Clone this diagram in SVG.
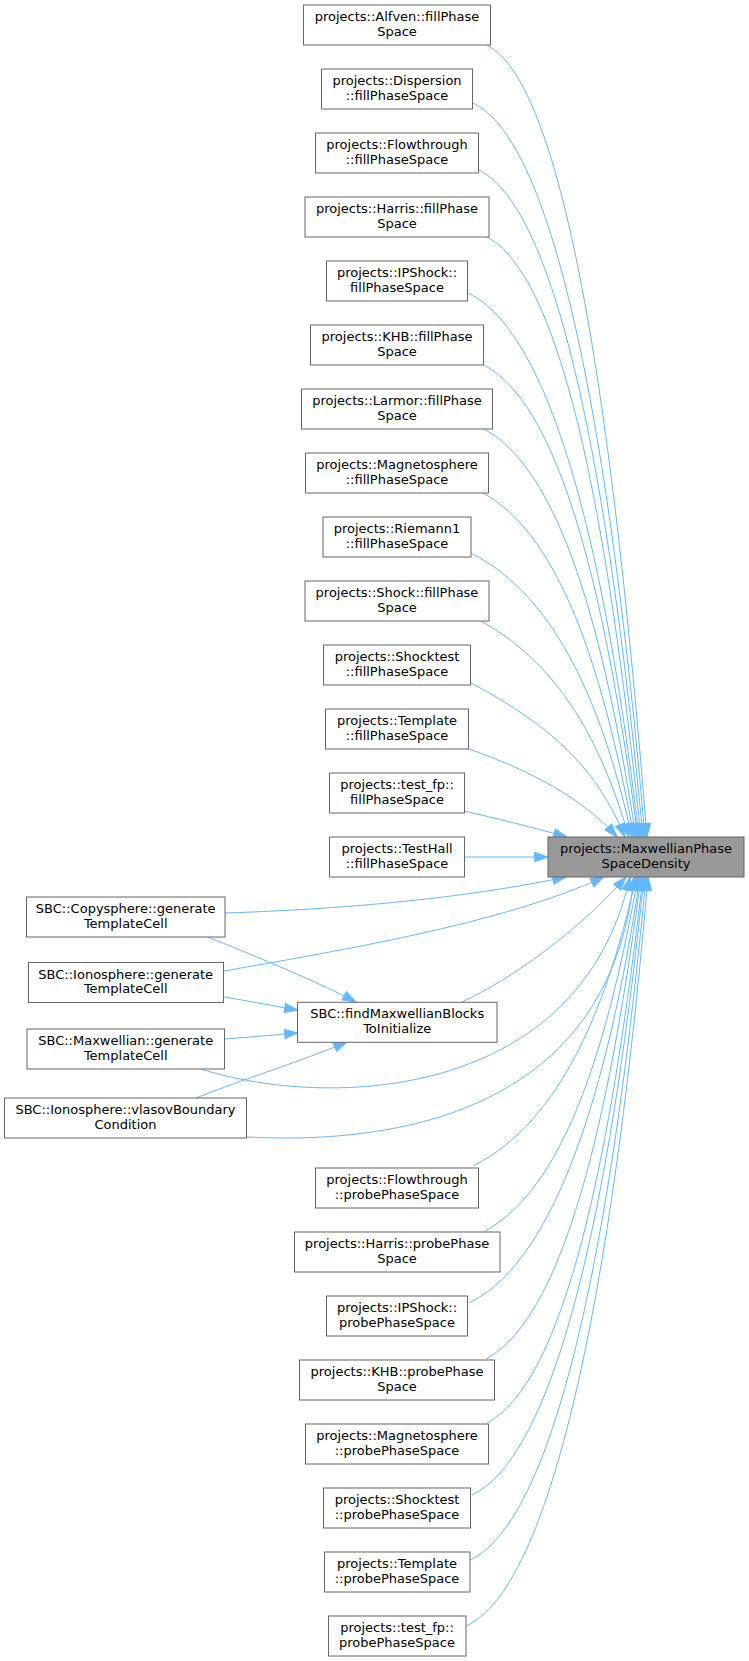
<svg xmlns="http://www.w3.org/2000/svg" width="749" height="1661" viewBox="0 0 749 1661">
<style>
.n rect{fill:#ffffff;stroke:#666666;stroke-width:1}
.c rect{fill:#999999;stroke:#666666;stroke-width:1}
text{font-family:"DejaVu Sans","Liberation Sans",sans-serif;font-size:13px;fill:#000000;text-anchor:middle}
.e path{fill:none;stroke:#63b8ff;stroke-width:1;marker-end:url(#ah)}
</style>
<defs>
<marker id="ah" markerUnits="userSpaceOnUse" markerWidth="16" markerHeight="12" viewBox="0 0 16 12" refX="14.3" refY="6" orient="auto" overflow="visible"><path d="M1,1.33 L14.3,6 L1,10.67 Z" fill="#63b8ff" stroke="#63b8ff" stroke-width="1"/></marker>
</defs>
<rect x="0" y="0" width="749" height="1661" fill="#ffffff"/>
<g id="edges" class="e">
<path d="M487,45 C575,90 620,500 647,837"/>
<path d="M473,103 C568,148 618,525 645,837"/>
<path d="M479,170 C569,215 616,554 643,837"/>
<path d="M487,237 C572,282 614,582 641,837"/>
<path d="M468,293 C562,338 612,606 639,837"/>
<path d="M484,365 C569,410 611,636 638,837"/>
<path d="M484,429 C568,474 609,664 636,837"/>
<path d="M483,493 C566,538 607,691 634,837"/>
<path d="M471,553 C560,598 605,716 632,837"/>
<path d="M481,621 C562,666 602,745 629,837"/>
<path d="M471,683 C556,728 598,772 625,837"/>
<path d="M469,749 C530,770 585,800 617,837"/>
<path d="M464,811 C495,818 535,828 567,837"/>
<path d="M464,857 L548,857"/>
<path d="M225,913 C380,908 490,893 566,877"/>
<path d="M224,971 C330,952 500,925 604,877"/>
<path d="M462,1002 C510,980 580,930 626,877"/>
<path d="M201,1069 C330,1110 580,1100 630,877"/>
<path d="M247,1137 C400,1145 610,1110 634,877"/>
<path d="M473,1166 C563,1121 609,1000 636,877"/>
<path d="M485,1231 C569,1186 611,1028 638,877"/>
<path d="M469,1303 C563,1258 613,1058 640,877"/>
<path d="M486,1359 C571,1314 614,1082 641,877"/>
<path d="M487,1423 C573,1378 616,1109 643,877"/>
<path d="M472,1495 C567,1450 617,1140 644,877"/>
<path d="M470,1560 C567,1515 619,1167 646,877"/>
<path d="M466,1626 C566,1581 621,1195 648,877"/>
<path d="M208,937 C260,958 320,983 356,1002"/>
<path d="M224,997 C250,1001 272,1006 298,1010"/>
<path d="M225,1039 C250,1037 275,1035 298,1033"/>
<path d="M196,1098 C240,1080 300,1062 347,1042"/>
</g>
<g id="n_alfven" class="n"><rect x="303.5" y="5" width="187" height="40"/><text x="397" y="21">projects::Alfven::fillPhase</text><text x="397" y="35.5">Space</text></g>
<g id="n_dispersion" class="n"><rect x="321.5" y="69" width="151" height="40"/><text x="397" y="85">projects::Dispersion</text><text x="397" y="99.5">::fillPhaseSpace</text></g>
<g id="n_flowthrough_fill" class="n"><rect x="315.5" y="133" width="163" height="40"/><text x="397" y="149">projects::Flowthrough</text><text x="397" y="163.5">::fillPhaseSpace</text></g>
<g id="n_harris_fill" class="n"><rect x="305" y="197" width="184" height="40"/><text x="397" y="213">projects::Harris::fillPhase</text><text x="397" y="227.5">Space</text></g>
<g id="n_ipshock_fill" class="n"><rect x="326.5" y="261" width="141" height="40"/><text x="397" y="277">projects::IPShock::</text><text x="397" y="291.5">fillPhaseSpace</text></g>
<g id="n_khb_fill" class="n"><rect x="310.5" y="325" width="173" height="40"/><text x="397" y="341">projects::KHB::fillPhase</text><text x="397" y="355.5">Space</text></g>
<g id="n_larmor" class="n"><rect x="301.5" y="389" width="191" height="40"/><text x="397" y="405">projects::Larmor::fillPhase</text><text x="397" y="419.5">Space</text></g>
<g id="n_magneto_fill" class="n"><rect x="305.5" y="453" width="183" height="40"/><text x="397" y="469">projects::Magnetosphere</text><text x="397" y="483.5">::fillPhaseSpace</text></g>
<g id="n_riemann1" class="n"><rect x="323" y="517" width="148" height="40"/><text x="397" y="533">projects::Riemann1</text><text x="397" y="547.5">::fillPhaseSpace</text></g>
<g id="n_shock" class="n"><rect x="305" y="581" width="184" height="40"/><text x="397" y="597">projects::Shock::fillPhase</text><text x="397" y="611.5">Space</text></g>
<g id="n_shocktest_fill" class="n"><rect x="323.5" y="645" width="147" height="40"/><text x="397" y="661">projects::Shocktest</text><text x="397" y="675.5">::fillPhaseSpace</text></g>
<g id="n_template_fill" class="n"><rect x="325.5" y="709" width="143" height="40"/><text x="397" y="725">projects::Template</text><text x="397" y="739.5">::fillPhaseSpace</text></g>
<g id="n_testfp_fill" class="n"><rect x="329.5" y="773" width="135" height="40"/><text x="397" y="789">projects::test_fp::</text><text x="397" y="803.5">fillPhaseSpace</text></g>
<g id="n_testhall" class="n"><rect x="329.5" y="837" width="135" height="40"/><text x="397" y="853">projects::TestHall</text><text x="397" y="867.5">::fillPhaseSpace</text></g>
<g id="n_maxwellian_psd" class="c"><rect x="548" y="837" width="196" height="40"/><text x="646" y="853">projects::MaxwellianPhase</text><text x="646" y="867.5">SpaceDensity</text></g>
<g id="n_copysphere" class="n"><rect x="26.5" y="897" width="198.5" height="40"/><text x="125.7" y="913">SBC::Copysphere::generate</text><text x="125.7" y="927.5">TemplateCell</text></g>
<g id="n_ionosphere_gen" class="n"><rect x="28.5" y="962.5" width="195" height="40"/><text x="125.7" y="978.5">SBC::Ionosphere::generate</text><text x="125.7" y="993">TemplateCell</text></g>
<g id="n_findmax" class="n"><rect x="297.5" y="1002.3" width="199.5" height="40"/><text x="397.2" y="1018.3">SBC::findMaxwellianBlocks</text><text x="397.2" y="1032.8">ToInitialize</text></g>
<g id="n_maxwellian_gen" class="n"><rect x="27" y="1029" width="197.5" height="40"/><text x="125.7" y="1045">SBC::Maxwellian::generate</text><text x="125.7" y="1059.5">TemplateCell</text></g>
<g id="n_vlasov" class="n"><rect x="4.5" y="1098" width="242" height="40"/><text x="125.5" y="1114">SBC::Ionosphere::vlasovBoundary</text><text x="125.5" y="1128.5">Condition</text></g>
<g id="n_flowthrough_probe" class="n"><rect x="315.5" y="1168" width="163" height="40"/><text x="397" y="1184">projects::Flowthrough</text><text x="397" y="1198.5">::probePhaseSpace</text></g>
<g id="n_harris_probe" class="n"><rect x="294.5" y="1232" width="205.5" height="40"/><text x="397" y="1248">projects::Harris::probePhase</text><text x="397" y="1262.5">Space</text></g>
<g id="n_ipshock_probe" class="n"><rect x="326.5" y="1296" width="141" height="40"/><text x="397" y="1312">projects::IPShock::</text><text x="397" y="1326.5">probePhaseSpace</text></g>
<g id="n_khb_probe" class="n"><rect x="299.5" y="1360" width="195" height="40"/><text x="397" y="1376">projects::KHB::probePhase</text><text x="397" y="1390.5">Space</text></g>
<g id="n_magneto_probe" class="n"><rect x="305.5" y="1424" width="183" height="40"/><text x="397" y="1440">projects::Magnetosphere</text><text x="397" y="1454.5">::probePhaseSpace</text></g>
<g id="n_shocktest_probe" class="n"><rect x="323.5" y="1488" width="147" height="40"/><text x="397" y="1504">projects::Shocktest</text><text x="397" y="1518.5">::probePhaseSpace</text></g>
<g id="n_template_probe" class="n"><rect x="324.5" y="1552" width="145.5" height="40"/><text x="397" y="1568">projects::Template</text><text x="397" y="1582.5">::probePhaseSpace</text></g>
<g id="n_testfp_probe" class="n"><rect x="328.5" y="1616" width="137.5" height="40"/><text x="397" y="1632">projects::test_fp::</text><text x="397" y="1646.5">probePhaseSpace</text></g>
</svg>
